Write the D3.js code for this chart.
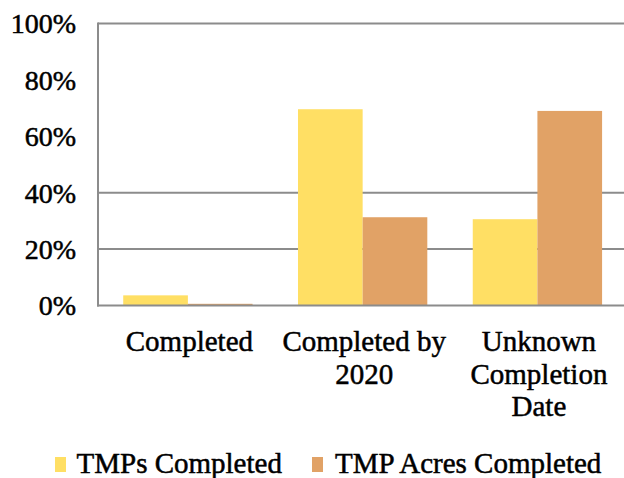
<!DOCTYPE html>
<html>
<head>
<meta charset="utf-8">
<script src="https://cdn.jsdelivr.net/npm/d3@7"></script>
<style>
  html, body { margin: 0; padding: 0; background: #fff; }
</style>
</head>
<body>
<svg id="chart" width="624" height="478"></svg>
<script>
// Share of TMPs and TMP acres by completion status
const categories = [["Completed"], ["Completed by", "2020"], ["Unknown", "Completion", "Date"]];
const seriesNames = ["TMPs Completed", "TMP Acres Completed"];
const tmpsCompleted = [3.6, 69.6, 30.6];
const tmpAcresCompleted = [0.6, 31.3, 69.0];
const yTickValues = [0, 20, 40, 60, 80, 100];
const yTickLabels = ["0%", "20%", "40%", "60%", "80%", "100%"];
const gridValues = [20, 40, 100];
const colors = ["#FFDF64", "#E1A266"];

const seriesValues = [tmpsCompleted, tmpAcresCompleted];
const FONT = "Liberation Serif";
const svg = d3.select("#chart");

const x = d3.scaleBand()
  .domain(d3.range(categories.length))
  .range([100.5, 624.8])
  .paddingInner(0.26)
  .paddingOuter(0.13);

const xs = d3.scaleBand()
  .domain(d3.range(seriesNames.length))
  .range([0, x.bandwidth()]);

const y = d3.scaleLinear().domain([0, 100]).range([305.5, 23.5]);

const axisLeft = 98;
const lineColor = "#8C8C8C";

// horizontal gridlines
svg.append("g").selectAll("line")
  .data(gridValues)
  .join("line")
  .attr("x1", axisLeft).attr("x2", 624)
  .attr("y1", d => y(d)).attr("y2", d => y(d))
  .attr("stroke", lineColor).attr("stroke-width", 2);

// bars
const groups = svg.append("g").selectAll("g")
  .data(categories.map((c, i) => i))
  .join("g")
  .attr("transform", i => `translate(${x(i)},0)`);

groups.selectAll("rect")
  .data(i => seriesValues.map((vals, s) => ({ s, v: vals[i] })))
  .join("rect")
  .attr("x", d => xs(d.s))
  .attr("width", xs.bandwidth())
  .attr("y", d => y(d.v))
  .attr("height", d => y(0) - y(d.v))
  .attr("fill", d => colors[d.s]);

// axis frame: left spine and baseline
svg.append("line")
  .attr("x1", axisLeft).attr("x2", axisLeft)
  .attr("y1", y(100) - 1).attr("y2", y(0) + 1)
  .attr("stroke", lineColor).attr("stroke-width", 2);
svg.append("line")
  .attr("x1", axisLeft - 1).attr("x2", 624)
  .attr("y1", y(0)).attr("y2", y(0))
  .attr("stroke", lineColor).attr("stroke-width", 2);

// y tick labels
svg.append("g").selectAll("text")
  .data(yTickValues)
  .join("text")
  .attr("x", 76)
  .attr("y", d => y(d))
  .attr("dy", "0.35em")
  .attr("text-anchor", "end")
  .attr("font-family", FONT)
  .attr("font-size", 28)
  .attr("stroke", "#000").attr("stroke-width", 0.5)
  .text((d, i) => yTickLabels[i]);

// category labels
const catG = svg.append("g").selectAll("text")
  .data(categories)
  .join("text")
  .attr("x", (d, i) => x(i) + x.bandwidth() / 2 + 1.5)
  .attr("y", 351)
  .attr("text-anchor", "middle")
  .attr("font-family", FONT)
  .attr("font-size", 29)
  .attr("stroke", "#000").attr("stroke-width", 0.5);
catG.selectAll("tspan")
  .data(d => d)
  .join("tspan")
  .attr("x", function () { return d3.select(this.parentNode).attr("x"); })
  .attr("dy", (d, i) => i === 0 ? 0 : 32.5)
  .text(d => d);

// legend
const legendX = [55, 312];
const legend = svg.append("g").selectAll("g")
  .data(seriesNames)
  .join("g")
  .attr("transform", (d, i) => `translate(${legendX[i]},0)`);
legend.append("rect")
  .attr("x", 0).attr("y", 457)
  .attr("width", 11).attr("height", 15)
  .attr("fill", (d, i) => colors[i]);
legend.append("text")
  .attr("x", (d, i) => i === 0 ? 21.5 : 23)
  .attr("y", 473)
  .attr("font-family", FONT)
  .attr("font-size", 29)
  .attr("stroke", "#000").attr("stroke-width", 0.5)
  .text(d => d);
</script>
</body>
</html>
